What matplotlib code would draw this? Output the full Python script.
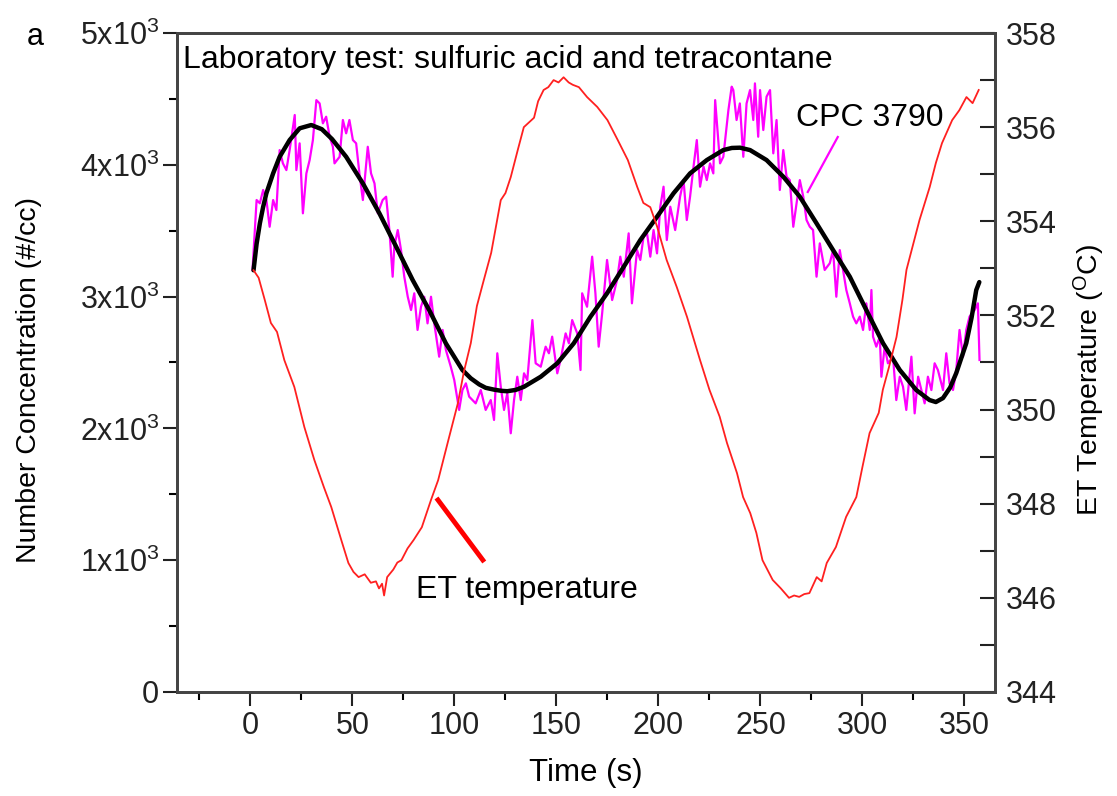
import matplotlib
matplotlib.use('Agg')
import matplotlib.pyplot as plt
from matplotlib.ticker import MultipleLocator, FuncFormatter

plt.rcParams['font.family'] = ['Liberation Sans', 'DejaVu Sans']
plt.rcParams['mathtext.fontset'] = 'custom'
plt.rcParams['mathtext.rm'] = 'Liberation Sans'

# CPC 3790 number concentration (#/cc)
cpc_t = [1.0, 3.0, 4.6, 6.2, 7.8, 9.4, 11.1, 12.7, 14.3, 15.9, 17.6, 19.2, 21.7, 22.5,
         24.1, 25.7, 27.4, 29.0, 30.6, 32.3, 33.9, 35.5, 37.1, 38.8, 40.4, 41.2, 43.7,
         45.3, 46.9, 48.5, 50.2, 51.8, 53.4, 55.1, 57.5, 59.1, 60.8, 62.4, 64.8, 66.5,
         68.1, 69.7, 70.5, 72.2, 73.8, 75.4, 77.1, 78.7, 80.3, 81.9, 83.6, 85.2, 86.8,
         88.5, 90.1, 92.5, 94.2, 95.8, 98.2, 99.9, 102.3, 103.9, 105.6, 107.2, 110.4,
         112.9, 115.3, 117.8, 119.4, 121.0, 122.7, 124.3, 125.9, 127.6, 129.2, 130.8,
         132.5, 134.1, 135.7, 138.2, 139.8, 142.3, 144.7, 146.3, 147.9, 150.4, 152.0,
         154.5, 156.1, 157.7, 160.2, 161.8, 162.6, 165.0, 167.5, 169.1, 170.7, 172.4,
         174.8, 177.3, 179.7, 181.3, 183.0, 185.4, 187.0, 189.5, 191.1, 192.7, 194.4,
         196.0, 197.6, 199.3, 200.9, 202.5, 204.1, 205.8, 208.2, 210.6, 212.3, 213.9,
         215.5, 217.2, 218.8, 220.4, 222.1, 223.7, 225.3, 226.9, 227.8, 230.2, 231.8,
         234.3, 235.9, 236.7, 238.3, 239.9, 241.6, 243.2, 244.9, 246.5, 247.3, 248.9,
         249.8, 251.4, 253.0, 254.7, 256.3, 257.9, 259.5, 261.2, 262.8, 264.4, 266.1,
         267.7, 269.3, 271.0, 272.6, 274.2, 275.8, 277.5, 279.1, 281.5, 284.0, 285.6,
         287.2, 288.9, 290.5, 292.1, 293.8, 295.4, 297.0, 298.7, 300.3, 301.9, 303.6,
         304.4, 305.2, 306.8, 308.5, 309.3, 310.9, 312.5, 315.0, 316.6, 318.3, 319.9,
         321.5, 324.0, 325.6, 327.3, 328.9, 330.5, 332.1, 333.8, 335.4, 337.0, 339.5,
         341.1, 342.7, 344.4, 346.0, 347.6, 349.3, 350.9, 352.5, 355.0, 356.6, 357.4]
cpc_n = [3202, 3733, 3708, 3809, 3733, 3530, 3733, 3657, 4112, 4011, 3960, 4112, 4378, 3960,
         4163, 3632, 3935, 4036, 4188, 4491, 4466, 4315, 4365, 4213, 4137, 4011, 4061,
         4340, 4239, 4340, 4188, 4163, 3935, 3733, 4137, 3935, 3859, 3632, 3733, 3758,
         3505, 3151, 3379, 3505, 3353, 3151, 2999, 2898, 3025, 2747, 2923, 2999, 2797,
         2999, 2797, 2544, 2747, 2595, 2468, 2367, 2140, 2291, 2342, 2241, 2190,
         2291, 2140, 2215, 2064, 2570, 2316, 2140, 2266, 1963, 2215, 2392,
         2215, 2418, 2367, 2822, 2494, 2468, 2620, 2570, 2696, 2418, 2519,
         2721, 2646, 2822, 2721, 2443, 3025, 2923, 3303, 3025, 2620, 2873,
         3278, 2974, 3126, 3303, 3151, 3480, 2949, 3353, 3278, 3454, 3480,
         3303, 3505, 3328, 3682, 3834, 3429, 3682, 3505, 3758, 3884, 3581,
         3758, 3986, 4188, 3834, 3986, 3884, 4011, 3935, 4491, 4011, 4061,
         4416, 4593, 4567, 4340, 4466, 4061, 4466, 4567, 4340, 4618, 4213,
         4567, 4264, 4517, 4567, 4087, 4340, 3809, 4112, 3910, 3884, 3530,
         3708, 3884, 3758, 3581, 3530, 3505, 3151, 3404, 3202, 3253, 3353,
         2999, 3353, 3202, 3050, 2949, 2848, 2797, 2848, 2747, 2949, 2747,
         3050, 2696, 2620, 2696, 2392, 2620, 2494, 2544, 2215, 2392, 2316,
         2140, 2544, 2114, 2392, 2291, 2190, 2392, 2291, 2494, 2443, 2291,
         2570, 2342, 2291, 2443, 2747, 2544, 2747, 2848, 2898, 2949, 2519]

# fitted curve (black)
fit_t = [1.5, 3.0, 4.6, 6.2, 7.8, 11.1, 14.3, 19.2, 24.1, 29.8, 35.0, 40.0, 46.9, 55.1,
         63.2, 71.4, 79.5, 87.6, 95.8, 103.9, 108.0, 112.1, 115.3, 119.4, 123.0, 125.9,
         130.0, 134.1, 142.3, 150.4, 158.5, 166.7, 174.8, 183.0, 191.1, 199.3, 207.4,
         215.5, 223.7, 231.8, 236.0, 240.0, 244.9, 253.0, 261.2, 269.3, 277.5, 285.6,
         293.8, 301.9, 310.1, 318.3, 326.4, 332.9, 336.0, 339.5, 343.0, 346.0, 350.9,
         353.5, 355.8, 357.3]
fit_n = [3200, 3400, 3556, 3680, 3784, 3935, 4061, 4188, 4277, 4302, 4270, 4195, 4061, 3859,
         3632, 3379, 3126, 2898, 2645, 2443, 2380, 2334, 2308, 2294, 2285, 2282,
         2292, 2316, 2392, 2494, 2646, 2848, 3025, 3227, 3429, 3606, 3784,
         3935, 4036, 4112, 4128, 4130, 4112, 4036, 3910, 3758, 3556, 3353,
         3151, 2898, 2646, 2443, 2291, 2215, 2200, 2230, 2310, 2420, 2646,
         2840, 3050, 3110]

# extraction tube temperature (deg C, right axis)
et_t = [1.5, 4.0, 7.0, 10.0, 13.0, 16.6, 21.5, 26.4, 31.3, 36.0, 39.6, 44.5, 48.0, 50.5,
        53.0, 56.0, 59.0, 61.5, 63.0, 64.5, 65.5, 67.0, 70.0, 72.0, 74.0, 77.0, 80.0, 84.0,
        88.5, 92.0, 97.0, 101.7, 104.6, 108.0, 111.0, 114.0, 118.0, 122.7, 125.0, 127.6,
        131.0, 134.0, 139.0, 141.0, 143.7, 146.0, 148.6, 151.0, 153.5, 156.0, 158.0,
        161.0, 165.0, 170.0, 175.0, 180.0, 185.0, 189.6, 192.6, 196.0, 199.4, 204.0,
        209.0, 214.0, 220.4, 225.0, 230.0, 233.6, 238.5, 241.5, 245.0, 248.0, 251.0,
        256.0, 260.0, 264.0, 266.5, 269.0, 271.5, 274.0, 277.6, 280.0, 282.5, 287.0,
        292.0, 297.0, 300.0, 303.5, 308.0, 310.0, 313.0, 316.7, 319.6, 321.6, 328.0,
        333.0, 336.0, 339.0, 344.0, 347.5, 351.0, 354.0, 357.0]
et_T = [352.96, 352.8, 352.33, 351.84, 351.65, 351.05, 350.48, 349.63, 348.93, 348.35,
        347.93, 347.23, 346.74, 346.55, 346.44, 346.50, 346.32, 346.35, 346.2, 346.3,
        346.05, 346.44, 346.6, 346.75, 346.8, 347.05, 347.23, 347.5, 348.08, 348.5,
        349.35, 350.14, 350.8, 351.41, 352.2, 352.69, 353.33, 354.45, 354.6, 354.94,
        355.51, 356.0, 356.2, 356.55, 356.79, 356.85, 357.0, 356.95, 357.06, 356.95, 356.9,
        356.85, 356.64, 356.43, 356.15, 355.73, 355.3, 354.73, 354.39, 354.3,
        353.88, 353.18, 352.6, 351.97, 351.05, 350.42, 349.85, 349.29, 348.65, 348.14,
        347.8, 347.38, 346.8, 346.38, 346.2, 346.0, 346.05, 346.02, 346.08, 346.1, 346.44,
        346.35, 346.74, 347.08, 347.72, 348.14, 348.78, 349.5, 349.93, 350.42, 350.9,
        351.54, 352.33, 352.97, 354.03, 354.73, 355.24, 355.66, 356.15, 356.36, 356.64,
        356.51, 356.79]

fig = plt.figure(figsize=(11.17, 7.96), dpi=100)
ax = fig.add_axes([0.1585, 0.1307, 0.7323, 0.8278])

ax.plot(cpc_t, cpc_n, color='#ff00ff', lw=1.6)
ax.plot(fit_t, fit_n, color='black', lw=3.2, solid_capstyle='round', solid_joinstyle='round')
ax.set_xlim(-36, 365)
ax.set_ylim(0, 5000)
ax.xaxis.set_major_locator(MultipleLocator(50))
ax.xaxis.set_minor_locator(MultipleLocator(25))
ax.yaxis.set_major_locator(MultipleLocator(1000))
ax.yaxis.set_minor_locator(MultipleLocator(500))
ax.yaxis.set_major_formatter(FuncFormatter(
    lambda v, p: '0' if v == 0 else r'$\mathregular{%dx10^{3}}$' % round(v / 1000)))
ax.tick_params(axis='both', which='major', direction='out', length=10, width=1.5,
               labelsize=22, colors='#222222')
ax.tick_params(axis='both', which='minor', direction='out', length=6, width=1.5)
ax.tick_params(axis='x', pad=4)
ax.tick_params(axis='y', pad=3)
ax.set_xlabel('Time (s)', fontsize=22.5, labelpad=12)
ax.set_ylabel('Number Concentration (#/cc)', fontsize=20.5)
ax.yaxis.set_label_coords(-0.165, 0.473)

ax2 = ax.twinx()
ax2.plot(et_t, et_T, color='#ff2020', lw=1.3)
ax2.set_ylim(344, 358)
ax2.yaxis.set_major_locator(MultipleLocator(2))
ax2.yaxis.set_minor_locator(MultipleLocator(1))
ax2.tick_params(axis='y', which='both', direction='in', length=11, width=1.5,
                labelsize=22, pad=8, colors='#222222')
ax2.set_ylabel(r'ET Temperature ($\mathregular{^{O}}$C)', fontsize=20.5)
ax2.yaxis.set_label_coords(1.094, 0.473)

for a in (ax, ax2):
    for s in a.spines.values():
        s.set_color('#444444')
        s.set_linewidth(2)

ax.text(0.007, 0.959, 'Laboratory test: sulfuric acid and tetracontane',
        transform=ax.transAxes, fontsize=23, va='center', ha='left')
ax.plot([287.9, 273.2], [4211, 3794], color='#ff00ff', lw=1.6)
ax.text(267.5, 4355, 'CPC 3790', fontsize=23, va='center', ha='left')
ax.plot([91.9, 113.9], [1457, 1001], color='red', lw=3.5)
ax.text(81.0, 774, 'ET temperature', fontsize=23, va='center', ha='left')
fig.text(35 / 1117, 1 - 37 / 796, 'a', fontsize=22, va='center', ha='center')

fig.savefig('out.png', dpi=100)
